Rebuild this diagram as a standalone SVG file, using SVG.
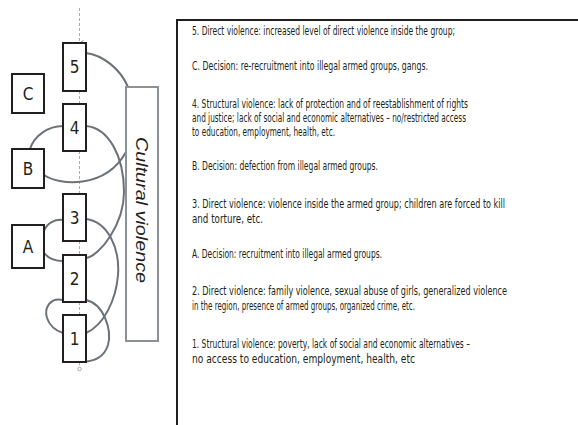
<svg xmlns="http://www.w3.org/2000/svg" width="578" height="425" viewBox="0 0 578 425">
<style>
.nb{fill:#fff;stroke:#231f20;stroke-width:2}
.nl{font-family:"Liberation Sans Narrow","DejaVu Sans Condensed","Liberation Sans",sans-serif;font-size:17px;fill:#231f20;text-anchor:middle}
.cv{fill:#fff;stroke:#8a9197;stroke-width:2}
.cvt{font-family:"Liberation Sans","DejaVu Sans",sans-serif;font-style:italic;font-size:17px;fill:#231f20}
.arc{fill:none;stroke:#6b7278;stroke-width:2}
.dash{fill:none;stroke:#a9adb1;stroke-width:1;stroke-dasharray:3 2}
.tx{font-family:"Liberation Sans Narrow","DejaVu Sans Condensed","Liberation Sans",sans-serif;font-size:12px;fill:#231f20}
</style>
<defs>
<marker id="ah" markerWidth="6" markerHeight="6" refX="3" refY="5" orient="auto-start-reverse" markerUnits="userSpaceOnUse">
<path d="M0.5,1 L3,5 L5.5,1" fill="none" stroke="#8a8f94" stroke-width="1"/>
</marker>
</defs>
<rect width="578" height="425" fill="#fff"/>
<g id="connectors">
<path class="dash" d="M79.5,8 V43" marker-end="url(#ah)"/>
<path class="dash" d="M79.5,91 V104"/>
<path class="dash" d="M79.5,151 V194"/>
<path class="dash" d="M79.5,241 V255"/>
<path class="dash" d="M79.5,302 V315"/>
<path class="dash" d="M79.5,362 V367"/>
<circle cx="79.5" cy="369" r="1.8" fill="none" stroke="#a9adb1" stroke-width="1"/>
<path class="arc" d="M86,53 C102,55 120,68 128,87"/>
<path class="arc" d="M63,126 C48,126 34,136 30,149"/>
<path class="arc" d="M44,175 C58,185 105,190 126,152"/>
<path class="arc" d="M86,126 C108,128 124,155 124,192 C124,224 100,256 86,258"/>
<path class="arc" d="M63,220 C55,219 47,223 44,231"/>
<path class="arc" d="M44,253 C49,259 56,261 63,261"/>
<path class="arc" d="M86,219 C108,222 120,248 118,275 C116,300 104,325 86,333"/>
<path class="arc" d="M86,300 C104,304 112,330 108,345 C104,358 92,362 80,362"/>
<path class="arc" d="M63,300 C50,297 44,308 47,318 C50,327 57,331 63,333"/>
</g>
<g id="cultural">
<rect class="cv" x="126" y="87" width="32" height="254"/>
<text class="cvt" transform="translate(135.5,137) rotate(90)" textLength="146" lengthAdjust="spacingAndGlyphs">Cultural violence</text>
</g>
<g id="n5"><rect class="nb" x="63" y="43" width="23" height="48"/><text class="nl" x="74.5" y="73">5</text></g>
<g id="n4"><rect class="nb" x="63" y="104" width="23" height="47"/><text class="nl" x="74.5" y="134">4</text></g>
<g id="n3"><rect class="nb" x="63" y="194" width="23" height="47"/><text class="nl" x="74.5" y="224">3</text></g>
<g id="n2"><rect class="nb" x="63" y="255" width="23" height="47"/><text class="nl" x="74.5" y="285">2</text></g>
<g id="n1"><rect class="nb" x="63" y="315" width="23" height="47"/><text class="nl" x="74.5" y="345">1</text></g>
<g id="nC"><rect class="nb" x="12" y="74" width="32" height="39"/><text class="nl" x="28" y="100">C</text></g>
<g id="nB"><rect class="nb" x="12" y="149" width="32" height="39"/><text class="nl" x="28" y="175">B</text></g>
<g id="nA"><rect class="nb" x="12" y="225" width="32" height="43"/><text class="nl" x="28" y="253">A</text></g>
<g id="legend">
<path d="M578,20 H177 V425" fill="none" stroke="#231f20" stroke-width="2"/>
<text class="tx" x="192" y="35" textLength="263" lengthAdjust="spacingAndGlyphs">5. Direct violence: increased level of direct violence inside the group;</text>
<text class="tx" x="192" y="70" textLength="236" lengthAdjust="spacingAndGlyphs">C. Decision: re-recruitment into illegal armed groups, gangs.</text>
<text class="tx" x="192" y="108" textLength="276" lengthAdjust="spacingAndGlyphs">4. Structural violence: lack of protection and of reestablishment of rights</text>
<text class="tx" x="192" y="122" textLength="274" lengthAdjust="spacingAndGlyphs">and justice; lack of social and economic alternatives – no/restricted access</text>
<text class="tx" x="192" y="136" textLength="143" lengthAdjust="spacingAndGlyphs">to education, employment, health, etc.</text>
<text class="tx" x="192" y="170" textLength="186" lengthAdjust="spacingAndGlyphs">B. Decision: defection from illegal armed groups.</text>
<text class="tx" x="192" y="208" textLength="313" lengthAdjust="spacingAndGlyphs">3. Direct violence: violence inside the armed group; children are forced to kill</text>
<text class="tx" x="192" y="223" textLength="71" lengthAdjust="spacingAndGlyphs">and torture, etc.</text>
<text class="tx" x="192" y="258" textLength="190" lengthAdjust="spacingAndGlyphs">A. Decision: recruitment into illegal armed groups.</text>
<text class="tx" x="192" y="295" textLength="315" lengthAdjust="spacingAndGlyphs">2. Direct violence: family violence, sexual abuse of girls, generalized violence</text>
<text class="tx" x="192" y="310" textLength="223" lengthAdjust="spacingAndGlyphs">in the region, presence of armed groups, organized crime, etc.</text>
<text class="tx" x="192" y="348" textLength="278" lengthAdjust="spacingAndGlyphs">1. Structural violence: poverty, lack of social and economic alternatives –</text>
<text class="tx" x="192" y="363" textLength="223" lengthAdjust="spacingAndGlyphs">no access to education, employment, health, etc</text>
</g>
</svg>
